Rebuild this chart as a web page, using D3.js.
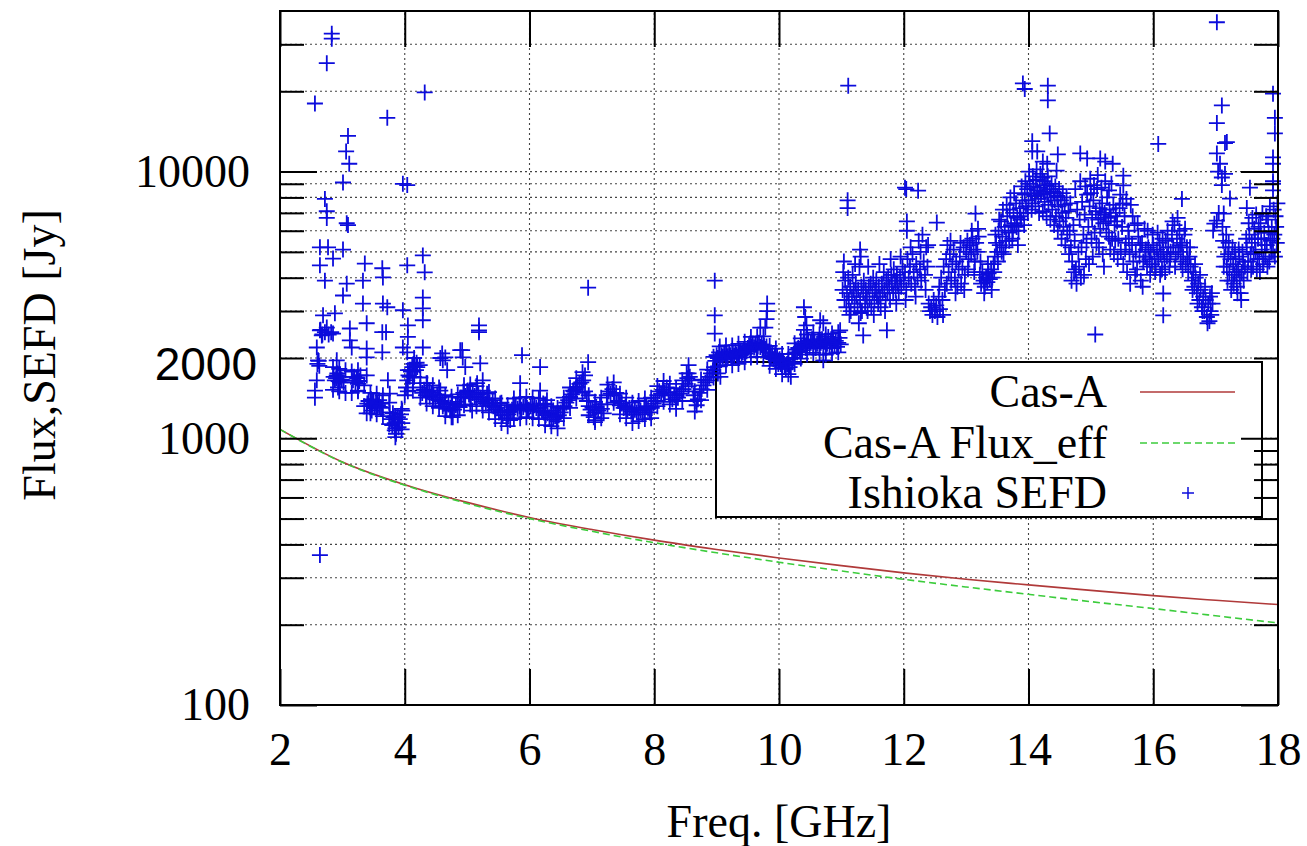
<!DOCTYPE html>
<html>
<head>
<meta charset="utf-8">
<script src="https://cdn.jsdelivr.net/npm/d3@7"></script>
<style>
  body { margin: 0; background: #fff; }
  svg { display: block; }
</style>
</head>
<body>
<svg id="chart"></svg>
<script>
// axis ticks
const xTicks = [2, 4, 6, 8, 10, 12, 14, 16, 18];
const yMajorTicks = [100, 1000, 10000];
const yMinorTicks = [200, 300, 400, 500, 600, 700, 800, 900, 2000, 3000, 4000, 5000, 6000, 7000, 8000, 9000, 20000, 30000];

// Cas-A flux curves
const casAFreq    = [2, 3, 4, 5, 6, 7, 8, 9, 10, 11, 12, 13, 14, 15, 16, 17, 18];
const casAFlux    = [1080, 815, 670, 575, 505, 455, 415, 383, 356, 333, 313, 296, 282, 269, 257, 247, 238];
const casAEffFlux = [1080, 813, 667, 570, 500, 448, 406, 372, 343, 318, 296, 277, 260, 244, 230, 216, 203];

// Ishioka SEFD [GHz, Jy]
const sefdLow = [
 [2.56,1510],[2.56,1420],[2.59,1650],[2.59,2190],[2.61,1960],[2.60,1900],[2.62,1950],[2.63,1870],
 [2.64,2540],[2.65,2550],[2.67,2430],[2.68,2450],[2.69,2890],[2.72,2500],[2.75,2600],[2.78,2450],[2.82,2500],[2.85,2470],
 [2.86,1700],[2.88,1650],[2.88,2940],[2.90,1680],[2.91,1720],[2.91,1960],[2.92,1750],[2.93,1550],[2.94,1640],[2.96,1620],
 [2.97,1700],[2.99,1660],[3.02,1620],[3.12,2580],[3.12,2330],[3.15,2190],[3.17,1650],[3.19,1700],[3.21,1620],[3.23,1690],
 [3.24,1680],[3.25,1600],[3.25,1510],[3.27,1640],[3.29,1720],[3.39,1720],[3.39,2700],[3.39,2170],[3.39,2010],[3.39,1240],
 [3.40,1350],[3.42,1380],[3.44,1320],[3.46,1400],[3.47,1270],[3.48,1340],[3.49,1390],[3.50,1370],[3.52,1310],[3.54,1360],
 [3.56,1350],[3.57,1330],[3.59,1390],[3.60,1310],[3.62,1300],[3.64,1350],[3.64,2100],[3.64,2500],[3.70,2500],[3.73,1650],
 [3.76,1470],[3.76,1250],[3.78,1180],[3.80,1120],[3.81,1240],[3.82,1200],[3.84,1140],[3.84,1070],[3.85,1090],[3.86,1040],
 [3.88,1150],[3.89,1200],[3.90,1100],[3.92,1180],[3.94,1230],[3.96,1140],[3.96,1270],[3.97,2190],[4.04,2100],[4.05,2650],
 [4.05,2400],[4.00,1450],[4.02,1550],[4.04,1650],[4.06,1720],[4.08,1700],[4.08,1800],[4.10,1780],[4.12,1850],[4.13,1610],
 [4.13,1510],[4.14,1900],[4.16,1860],[4.18,1800],[4.19,1920],[4.20,1850],[4.24,1880],[4.25,1550],[4.28,1480],[4.29,2190],
 [4.31,1520],[4.34,1450],[4.36,1610],[4.37,1500],[4.40,1430],[4.40,1510],[4.43,1480],[4.45,1420],[4.46,1450],[4.49,1400],
 [4.52,1460],[4.55,1420],[4.57,2000],[4.57,1510],[4.58,1380],[4.60,2080],[4.61,1960],[4.61,1320],[4.61,1350],[4.64,1360],
 [4.65,2010],[4.67,1290],[4.68,1800],[4.70,1340],[4.73,1300],[4.73,1270],[4.76,1350],[4.77,1200],[4.79,1280],[4.82,1330],
 [4.85,1370],[4.88,1310],[4.89,1420],[4.89,2140],[4.91,1420],[4.92,2140],[4.93,2010],[4.94,1480],[4.97,1440],[4.97,1850],
 [5.00,1500],[5.01,1510],[5.03,1460],[5.06,1420],[5.08,1270],[5.09,1480],[5.12,1440],[5.15,1400],[5.16,1610],[5.18,1460],
 [5.19,2650],[5.19,2540],[5.19,2500],[5.21,1420],[5.21,1910],[5.24,1370],[5.25,1650],[5.27,1400],[5.30,1350],[5.32,1470],
 [5.33,1390],[5.36,1360],[5.39,1330],[5.41,1390],[5.42,1320],[5.45,1280],[5.48,1300],[5.51,1250],[5.53,1350],[5.54,1270],
 [5.57,1220],[5.60,1250],[5.63,1190],[5.64,1270],[5.66,1230],[5.69,1260],[5.69,1170],[5.72,1280],[5.74,1310],[5.75,1300],
 [5.78,1330],[5.81,1290],[5.84,1320],[5.85,1420],[5.85,1610],[5.87,1280],[5.88,2050],[5.90,1310],[5.93,1340],[5.96,1300],
 [5.96,1270],[5.99,1280],[6.02,1320],[6.05,1290],[6.06,1270],[6.08,1330],[6.11,1300],[6.14,1270],[6.17,1300],[6.17,1850],
 [6.17,1510],[6.20,1260],[6.22,1350],[6.23,1250],[6.26,1220],[6.28,1390],[6.29,1240],[6.32,1200],[6.35,1230],[6.38,1180],
 [6.38,1270],[6.41,1210],[6.44,1160],[6.44,1200],[6.47,1220],[6.50,1250],[6.53,1290],[6.54,1310],[6.56,1320],[6.59,1360],
 [6.62,1390],[6.65,1430],[6.65,1420],[6.68,1460],[6.70,1510],[6.71,1500],[6.74,1530],[6.76,1550],[6.77,1560],[6.80,1600],
 [6.83,1620],[6.86,1650],[6.89,1500],[6.89,1720],[6.92,1380],[6.94,1930],[6.95,1320],[6.98,1280],[7.01,1300],[7.03,1200],
 [7.04,1250],[7.05,1170],[7.07,1310],[7.10,1270],[7.13,1340],[7.16,1290],[7.19,1240],[7.24,1450],[7.27,1500],[7.30,1470],
 [7.33,1530],[7.36,1450],[7.39,1480],[7.42,1380],[7.45,1330],[7.48,1350],[7.51,1300],[7.54,1320],[7.57,1280],[7.60,1300],
 [7.63,1260],[7.66,1230],[7.69,1280],[7.72,1250],[7.75,1300],[7.78,1270],[7.81,1230],[7.84,1280],[7.87,1320],[7.90,1290],
 [7.93,1250],[7.96,1300],[7.99,1350],[8.02,1380],[8.05,1450],[8.08,1500],[8.11,1470],[8.14,1520],[8.17,1480],[8.20,1550],
 [8.23,1490],[8.26,1450],[8.29,1400],[8.32,1450],[8.35,1380],[8.38,1420],[8.41,1470],[8.44,1500],[8.47,1530],[8.50,1600],
 [8.52,1750],[8.53,1680],[8.55,1750],[8.57,1700],[8.60,1650],[8.63,1450],[8.65,1380],[8.68,1330],[8.70,1400],[8.73,1480],
 [8.76,1530],[8.79,1580],[8.82,1620],[8.85,1650],[8.88,1700],[8.91,1750],[8.94,1800],[8.96,1850]
];
// upper / lower edge of the low-frequency ribbon
const sefdLowSpread = [
 [2.85,1850],[2.85,1520],[2.95,1820],[2.95,1500],[3.05,1800],[3.05,1480],[3.15,1780],[3.15,1480],[3.25,1800],[3.25,1500],
 [3.35,1580],[3.35,1320],[3.45,1480],[3.45,1240],[3.55,1470],[3.55,1230],[3.65,1450],[3.65,1210],[3.75,1360],[3.75,1130],
 [3.85,1210],[3.85,1010],[3.95,1290],[3.95,1080],[4.05,1800],[4.05,1500],[4.15,2000],[4.15,1700],[4.25,1690],[4.25,1420],
 [4.35,1610],[4.35,1350],[4.45,1580],[4.45,1320],[4.55,1550],[4.55,1300],[4.65,1450],[4.65,1210],[4.75,1430],[4.75,1200],
 [4.85,1460],[4.85,1220],[4.95,1580],[4.95,1330],[5.05,1590],[5.05,1340],[5.15,1570],[5.15,1320],[5.25,1510],[5.25,1270],
 [5.35,1490],[5.35,1250],[5.45,1410],[5.45,1180],[5.55,1360],[5.55,1140],[5.65,1330],[5.65,1110],[5.75,1410],[5.75,1180],
 [5.85,1420],[5.85,1190],[5.95,1430],[5.95,1200],[6.05,1420],[6.05,1190],[6.15,1410],[6.15,1180],[6.25,1340],[6.25,1120],
 [6.35,1320],[6.35,1110],[6.45,1300],[6.45,1090],[6.55,1420],[6.55,1190],[6.65,1550],[6.65,1300],[6.75,1680],[6.75,1410],
 [6.85,1770],[6.85,1480],[6.95,1450],[6.95,1220],[7.05,1370],[7.05,1150],[7.15,1420],[7.15,1190],[7.25,1590],[7.25,1340],
 [7.35,1620],[7.35,1360],[7.45,1470],[7.45,1230],[7.55,1420],[7.55,1190],[7.65,1360],[7.65,1140],[7.75,1380],[7.75,1160],
 [7.85,1410],[7.85,1180],[7.95,1420],[7.95,1190],[8.05,1570],[8.05,1320],[8.15,1640],[8.15,1370],[8.25,1600],[8.25,1340],
 [8.35,1540],[8.35,1290],[8.45,1650],[8.45,1380],[8.55,1880],[8.55,1570],[8.65,1500],[8.65,1260],[8.75,1660],[8.75,1390],
 [8.85,1810],[8.85,1520],[8.95,2020],[8.95,1690],[9.05,2210],[9.05,1860],[9.15,2230],[9.15,1880],[9.25,2230],[9.25,1880],
 [9.35,2260],[9.35,1900],[9.45,2300],[9.45,1930],[9.55,2400],[9.55,2010],[9.65,2410],[9.65,2020],[9.75,2410],[9.75,2020],
 [9.85,2220],[9.85,1870],[9.95,2170],[9.95,1820],[10.05,2070],[10.05,1740],[10.15,2070],[10.15,1740],[10.25,2270],[10.25,1900],
 [10.35,2370],[10.35,1990],[10.45,2450],[10.45,2060],[10.55,2490],[10.55,2090],[10.65,2450],[10.65,2060],[10.75,2450],[10.75,2060],
 [10.85,2470],[10.85,2080],[10.95,2500],[10.95,2100]
];
const sefdMid = [
 [8.98,1950],[9.00,2050],[9.02,2000],[9.02,1750],[9.04,2100],[9.06,1980],[9.06,1700],[9.08,2050],[9.10,2020],[9.12,2080],
 [9.14,1990],[9.16,2060],[9.18,2030],[9.20,2100],[9.22,2050],[9.24,2000],[9.26,2080],[9.28,2040],[9.30,2110],[9.32,2060],
 [9.34,2020],[9.36,2090],[9.38,2130],[9.40,2070],[9.42,2100],[9.44,2150],[9.46,2080],[9.48,2120],[9.50,2180],[9.52,2230],
 [9.54,2150],[9.56,2200],[9.58,2260],[9.60,2190],[9.62,2240],[9.64,2170],[9.66,2210],[9.68,2280],[9.70,2200],[9.70,2600],
 [9.72,2250],[9.74,2180],[9.76,2230],[9.78,2160],[9.78,2600],[9.80,2210],[9.80,2800],[9.81,3000],[9.81,3200],[9.83,2100],
 [9.85,2050],[9.87,2000],[9.89,2080],[9.91,1980],[9.93,2050],[9.95,1950],[9.97,2020],[9.99,1900],[10.01,1980],[10.03,1900],
 [10.05,1850],[10.07,1950],[10.09,1880],[10.11,1820],[10.13,1900],[10.15,1980],[10.17,1850],[10.19,1700],[10.21,1930],
 [10.23,2000],[10.25,2080],[10.27,2150],[10.29,2100],[10.31,2180],[10.33,2120],[10.35,2200],[10.37,2140],[10.39,2250],
 [10.40,3100],[10.40,2550],[10.41,2300],[10.42,2850],[10.43,2180],[10.44,2650],[10.45,2250],[10.47,2320],[10.49,2200],
 [10.51,2280],[10.53,2350],[10.55,2230],[10.57,2300],[10.59,2180],[10.61,2260],[10.63,2330],[10.65,2200],[10.66,2770],
 [10.67,2280],[10.69,2350],[10.71,2220],[10.71,2700],[10.71,1960],[10.73,2300],[10.75,2180],[10.77,2260],[10.79,2400],
 [10.81,2230],[10.83,2300],[10.85,2180],[10.87,2350],[10.89,2250],[10.91,2320],[10.93,2200],[10.95,2280],[10.97,2380],
 [10.98,2540],[10.99,2250]
];
const sefdHigh = [
 [11.02,3600],[11.03,4200],[11.05,3300],[11.06,3900],[11.08,3100],[11.09,3500],[11.11,4000],[11.12,3300],[11.14,3700],
 [11.15,3000],[11.17,3400],[11.18,4100],[11.20,3600],[11.21,3200],[11.23,3800],[11.24,3400],[11.26,3100],[11.27,3600],
 [11.28,2700],[11.29,4400],[11.30,3300],[11.30,5100],[11.31,4800],[11.32,3700],[11.33,3000],[11.35,3500],[11.35,2430],
 [11.36,3900],[11.38,3200],[11.39,3600],[11.41,3400],[11.42,3000],[11.44,3700],[11.45,3300],[11.47,3800],[11.48,3100],
 [11.50,3500],[11.51,4000],[11.53,3300],[11.54,3600],[11.56,3900],[11.57,3400],[11.59,3200],[11.60,3700],[11.62,3400],
 [11.63,3100],[11.65,3800],[11.66,3500],[11.68,4200],[11.69,3600],[11.71,3300],[11.72,3900],[11.73,2540],[11.74,3500],
 [11.75,4000],[11.77,3700],[11.78,3300],[11.80,4100],[11.81,3800],[11.83,3500],[11.84,4300],[11.86,3900],[11.87,3600],
 [11.89,4100],[11.90,3800],[11.92,3500],[11.94,4000],[11.96,3700],[11.98,4400],[12.00,3900],[12.02,4200],[12.04,3600],
 [12.05,6500],[12.05,6000],[12.06,4700],[12.08,4000],[12.10,4400],[12.12,3800],[12.14,4900],[12.16,4200],[12.18,3700],
 [12.20,4500],[12.22,4000],[12.24,5500],[12.26,4300],[12.28,3900],[12.30,5800],[12.32,4600],[12.34,4100],[12.36,5200],
 [12.38,4400],[12.40,3200],[12.42,3000],[12.44,3100],[12.46,2900],[12.48,3300],[12.50,3000],[12.52,3150],[12.53,6440],
 [12.54,2850],[12.56,3400],[12.58,3050],[12.60,4000],[12.62,3300],[12.64,4400],[12.66,3600],[12.68,4700],[12.70,5300],
 [12.72,4200],[12.74,4900],[12.76,3900],[12.78,4500],[12.80,5100],[12.82,4000],[12.84,4600],[12.86,3700],[12.88,4300],
 [12.90,4800],[12.92,3800],[12.94,4400],[12.96,5200],[12.98,4100],[13.00,5000],[13.02,5500],[13.04,4700],[13.06,5300],
 [13.08,4900],[13.10,5600],[13.12,5100],[13.14,4600],[13.15,6960],[13.16,5400],[13.18,5000],[13.20,5700],[13.22,4100],
 [13.24,3800],[13.26,4200],[13.28,3900],[13.30,3700],[13.32,4000],[13.34,3850],[13.36,4150],[13.38,3950],[13.40,4300],
 [13.42,4000],[13.44,4500],[13.46,4800],[13.48,5400],[13.50,5000],[13.52,6000],[13.54,5300],[13.56,6500],[13.58,5700],
 [13.60,4900],[13.62,6200],[13.64,5500],[13.66,6800],[13.68,5900],[13.70,7200],[13.72,6300],[13.74,5600],[13.76,7000],
 [13.78,6400],[13.80,7600],[13.82,6700],[13.84,6000],[13.86,7300],[13.88,6600],[13.90,7800],[13.92,7000],[13.94,8200],
 [13.96,7400],[13.98,8600],[14.00,7800],[14.02,9000],[14.04,8300],[14.06,7600],[14.08,8800],[14.10,8100],[14.12,9300],
 [14.14,8500],[14.16,7900],[14.18,8700],[14.20,8200],[14.22,9500],[14.24,8400],[14.26,7700],[14.28,8900],[14.30,8300],
 [14.32,7500],[14.34,8600],[14.36,8000],[14.38,7200],[14.40,8400],[14.42,7800],[14.44,6800],[14.46,8100],[14.48,7400],
 [14.50,6500],[14.52,7800],[14.54,7000],[14.56,6200],[14.58,7500],[14.60,6700],[14.62,5800],[14.64,7100],[14.66,6000],
 [14.68,5200],[14.70,4600],[14.72,6300],[14.74,5500],[14.76,4300],[14.78,7200],[14.80,5000],[14.82,6600],[14.84,4000],
 [14.86,7700],[14.88,5800],[14.90,6900],[14.92,4700],[14.94,8200],[14.96,6200],[14.98,7400],[15.00,8300],[15.02,6700],
 [15.03,4800],[15.04,7800],[15.06,5900],[15.07,2450],[15.08,7100],[15.10,8600],[15.12,6600],[15.13,5200],[15.14,7300],
 [15.16,6900],[15.18,7600],[15.20,6400],[15.21,4400],[15.22,7000],[15.24,6700],[15.26,8000],[15.28,6500],[15.29,5700],
 [15.30,7200],[15.32,6800],[15.34,5600],[15.36,7500],[15.37,4900],[15.38,6300],[15.40,7000],[15.42,6500],[15.44,5600],
 [15.46,7300],[15.48,5000],[15.50,6200],[15.52,4500],[15.54,6800],[15.56,5400],[15.58,4200],[15.60,6000],[15.62,4900],
 [15.64,7500],[15.66,5300],[15.68,4600],[15.70,6300],[15.72,5000],[15.74,4300],[15.76,5700],[15.78,4800],[15.80,3900],
 [15.82,5400],[15.84,4600],[15.86,6100],[15.88,5100],[15.90,4400],[15.92,5200],[15.94,4700],[15.96,5000],[15.98,4500],
 [16.00,5300],[16.02,4800],[16.04,4400],[16.06,5100],[16.08,4700],[16.10,5400],[16.12,4900],[16.14,4300],[16.16,5000],
 [16.16,3490],[16.16,2890],[16.18,4600],[16.20,5500],[16.22,4800],[16.24,5200],[16.26,4400],[16.28,5000],[16.30,5800],
 [16.32,5200],[16.34,6300],[16.36,4900],[16.38,5600],[16.40,5000],[16.42,6000],[16.44,4600],[16.46,5400],[16.46,7900],
 [16.48,4800],[16.50,5800],[16.52,4500],[16.54,5200],[16.56,4200],[16.58,4800],[16.60,4400],[16.62,3900],[16.64,4200],
 [16.66,3700],[16.68,4000],[16.70,3500],[16.72,3800],[16.74,3300],[16.76,3600],[16.78,3100],[16.80,3400],[16.82,3000],
 [16.84,3300],[16.86,2850],[16.88,3200],[16.90,2750],[16.92,3000],[16.94,3500],[16.96,6010],[16.98,6380],[17.02,6550],
 [17.05,7000],[17.07,10700],[17.10,9500],[17.10,8900],[17.12,5500],[17.13,6960],[17.14,4800],[17.15,9800],[17.16,5200],
 [17.18,4400],[17.20,4900],[17.22,4200],[17.23,7920],[17.24,4700],[17.26,3900],[17.28,4500],[17.30,4100],[17.32,4700],
 [17.34,3700],[17.36,4300],[17.38,4800],[17.40,3500],[17.42,4200],[17.44,4600],[17.50,5200],[17.50,7300],[17.52,4600],
 [17.54,5800],[17.55,8700],[17.56,4900],[17.58,5400],[17.60,4400],[17.62,6100],[17.64,5000],[17.66,4300],[17.68,5600],
 [17.70,4700],[17.72,6400],[17.74,5100],[17.76,4500],[17.78,5900],[17.80,4800],[17.82,5300],[17.84,6600],[17.86,4600],
 [17.88,5500],[17.90,6200],[17.92,5000],[17.92,9000],[17.92,8500],[17.94,5800],[17.96,6800],[17.98,5400]
];
// extra scatter of the 11-18 GHz cloud
const sefdHighSpread = [
 [11.04,4600],[11.13,2900],[11.22,4500],[11.31,2950],[11.43,4400],[11.52,2900],[11.61,4500],[11.70,3000],[11.79,4700],
 [11.88,3200],[11.95,4800],[12.03,3300],[12.11,5200],[12.19,3400],[12.27,5000],[12.35,3600],[12.39,5300],[12.57,3700],
 [12.63,2900],[12.69,3800],[12.75,5500],[12.83,3500],[12.91,5400],[12.97,3600],[13.03,4300],[13.09,6000],[13.13,4200],
 [13.19,6100],[13.23,4600],[13.29,3500],[13.35,4500],[13.41,3600],
 [13.45,4200],[13.47,5800],[13.51,4600],[13.53,6600],[13.57,5000],[13.59,7200],[13.63,5200],[13.65,7500],[13.69,5500],
 [13.71,8000],[13.75,6000],[13.77,8300],[13.81,6200],[13.83,5300],[13.87,6800],[13.89,8800],[13.93,6300],[13.95,9200],
 [13.99,7000],[14.01,10000],[14.05,7200],[14.07,9600],[14.11,7400],[14.13,10200],[14.17,7000],[14.19,9800],[14.23,7100],
 [14.25,9200],[14.29,6800],[14.31,9600],[14.35,6600],[14.37,9000],[14.41,6300],[14.43,8800],[14.47,6000],[14.49,8600],
 [14.53,5600],[14.55,8300],[14.59,5300],[14.61,8000],[14.65,4900],[14.67,7600],
 [14.69,3900],[14.73,4200],[14.77,3800],[14.81,4400],[14.85,5200],[14.89,4100],[14.93,5400],[14.97,4500],
 [14.75,8600],[14.83,9200],[14.91,8800],[14.99,9400],[15.05,8900],[15.11,9700],[15.17,8700],[15.23,9200],[15.29,8500],
 [15.33,9000],[15.01,5600],[15.09,5400],[15.15,6100],[15.19,4900],[15.25,5900],[15.31,5100],[15.39,5500],[15.43,4700],
 [15.47,8200],[15.51,7600],[15.55,5100],[15.57,7900],[15.61,5600],[15.63,3800],[15.67,6800],[15.71,4100],[15.75,6400],
 [15.79,5300],[15.83,3700],[15.87,4800],[15.91,6000],[15.95,4100],[15.99,5800],[16.03,4200],[16.07,5900],[16.11,4100],
 [16.15,5600],[16.19,4200],[16.23,6000],[16.27,4700],[16.31,6500],[16.35,4400],[16.39,6700],[16.43,5300],[16.47,4300],
 [16.51,6100],[16.55,4700],[16.59,5200],[16.63,3600],[16.67,4500],[16.71,3200],[16.75,4100],[16.79,3000],[16.83,3700],
 [16.87,2700],[16.91,3400],[16.93,2900],[16.95,3200],
 [17.11,6200],[17.13,4400],[17.17,5800],[17.19,3900],[17.21,5400],[17.25,3600],[17.27,5200],[17.29,3800],[17.31,5000],
 [17.33,4200],[17.35,3500],[17.37,5100],[17.39,4000],[17.41,3300],[17.43,5000],[17.45,3900],[17.47,4400],[17.49,5600],
 [17.51,4200],[17.53,6400],[17.57,4300],[17.59,6700],[17.61,4900],[17.63,5600],[17.65,6900],[17.67,4700],[17.69,6200],
 [17.71,4200],[17.73,5600],[17.75,7000],[17.77,4700],[17.79,5300],[17.81,6800],[17.83,4400],[17.85,5900],[17.87,7400],
 [17.89,5000],[17.91,5600],[17.93,7200],[17.95,4800],[17.97,6200],[17.99,7600]
];
const sefdOutliers = [
 [2.56,18000],[2.83,32900],[2.83,31500],[2.75,25500],[3.72,15900],[4.32,19800],[3.09,13600],[3.06,11900],[3.11,10700],
 [3.01,9100],[2.72,7900],[2.75,7100],[2.75,6700],[3.07,6400],[3.09,6300],[3.97,9000],[4.04,8900],[2.64,5200],[2.77,5200],
 [3.01,5100],[2.85,4720],[2.64,4450],[2.72,3900],[3.36,4520],[3.33,3900],[3.64,4340],[3.65,4010],[3.07,3800],[3.01,3430],
 [4.04,4450],[4.29,4850],[4.32,4190],[4.29,3370],[4.29,3070],[4.29,2770],[3.33,3200],[3.65,3200],[3.72,3100],[3.97,3020],
 [2.64,365],[6.94,3670],[8.97,3900],[8.97,2890],[8.97,2470],[11.10,7800],[11.10,7300],[11.11,21000],[12.02,8700],
 [12.04,8600],[12.23,8480],[13.91,21400],[13.94,20400],[14.31,21000],[14.31,18500],[14.34,13900],[14.06,13000],
 [14.06,11900],[14.14,11900],[14.23,10900],[14.30,10700],[14.45,10080],[14.47,11600],[14.83,11700],[14.94,11200],
 [15.15,11200],[15.23,10900],[15.35,10700],[15.52,9650],[15.52,8870],[16.08,12700],[17.02,36300],[17.10,17700],
 [17.02,15200],[17.15,12800],[17.18,12900],[17.02,11700],[17.04,10000],[17.92,19600],[17.95,15900],[17.95,13900],
 [17.92,11300],[17.92,10700],[17.92,9200]
];

const legendItems = ["Cas-A", "Cas-A Flux_eff", "Ishioka SEFD"];

const width = 1307, height = 846;
const margin = {top: 11, right: 29, bottom: 141, left: 280};
const serif = "'Liberation Serif', 'Times New Roman', serif";
const sans = "'Liberation Sans', Arial, sans-serif";
const blue = "#0c0cdc", red = "#b03a3a", green = "#3ccc3c";

const svg = d3.select("#chart").attr("width", width).attr("height", height);
svg.append("rect").attr("width", width).attr("height", height).attr("fill", "#fff");

const x = d3.scaleLinear().domain([2, 18]).range([margin.left, width - margin.right]);
const y = d3.scaleLog().domain([100, 40000]).range([height - margin.bottom, margin.top]);

// grid
const grid = svg.append("g").attr("stroke", "#444").attr("stroke-width", 1.1).attr("stroke-dasharray", "2,3");
grid.selectAll(".gx").data(xTicks.slice(1, -1)).join("line")
    .attr("x1", d => x(d)).attr("x2", d => x(d))
    .attr("y1", y.range()[0]).attr("y2", y.range()[1]);
grid.selectAll(".gy").data(yMinorTicks.concat([1000, 10000])).join("line")
    .attr("y1", d => y(d)).attr("y2", d => y(d))
    .attr("x1", x.range()[0]).attr("x2", x.range()[1]);

// legend box (opaque)
const lg = {x: 716, y: 362, w: 546, h: 155};
svg.append("rect").attr("x", lg.x).attr("y", lg.y).attr("width", lg.w).attr("height", lg.h)
    .attr("fill", "#fff").attr("stroke", "#000").attr("stroke-width", 2);

// curves
const line = d3.line().x(d => x(d[0])).y(d => y(d[1])).curve(d3.curveMonotoneX);
svg.append("path").datum(casAFreq.map((f, i) => [f, casAFlux[i]]))
    .attr("d", line).attr("fill", "none").attr("stroke", red).attr("stroke-width", 1.6);
svg.append("path").datum(casAFreq.map((f, i) => [f, casAEffFlux[i]]))
    .attr("d", line).attr("fill", "none").attr("stroke", green).attr("stroke-width", 1.6)
    .attr("stroke-dasharray", "7,4");

// SEFD points
const cross = "M-8,0H8M0,-8V8";
const sefd = sefdLow.concat(sefdLowSpread, sefdMid, sefdHigh, sefdHighSpread, sefdOutliers);
svg.append("g").selectAll("path").data(sefd).join("path")
    .attr("transform", d => `translate(${x(d[0])},${y(d[1])})`)
    .attr("d", cross).attr("stroke", blue).attr("stroke-width", 1.8).attr("fill", "none");

// axes (ticks inward, mirrored)
const axisStyle = g => {
  g.select(".domain").remove();
  g.selectAll(".tick line").attr("stroke", "#000").attr("stroke-width", 2);
  g.selectAll(".tick text").attr("font-family", serif).attr("font-size", 46).attr("fill", "#000");
};
const H = height - margin.bottom, W = width - margin.right;
svg.append("g").attr("transform", `translate(0,${H})`)
    .call(d3.axisBottom(x).tickValues(xTicks).tickSize(-36).tickPadding(27).tickFormat(d3.format("d"))).call(axisStyle);
svg.append("g").attr("transform", `translate(0,${margin.top})`)
    .call(d3.axisTop(x).tickValues(xTicks).tickSize(-36).tickFormat("")).call(axisStyle);
svg.append("g").attr("transform", `translate(${margin.left},0)`)
    .call(d3.axisLeft(y).tickValues(yMajorTicks).tickSize(-37).tickPadding(30).tickFormat(d3.format("d"))).call(axisStyle);
svg.append("g").attr("transform", `translate(${margin.left},0)`)
    .call(d3.axisLeft(y).tickValues(yMinorTicks).tickSize(-24).tickFormat("")).call(axisStyle);
svg.append("g").attr("transform", `translate(${W},0)`)
    .call(d3.axisRight(y).tickValues(yMajorTicks).tickSize(-37).tickFormat("")).call(axisStyle);
svg.append("g").attr("transform", `translate(${W},0)`)
    .call(d3.axisRight(y).tickValues(yMinorTicks).tickSize(-24).tickFormat("")).call(axisStyle);
// extra 2000 label
const lab2000 = svg.append("g").attr("transform", `translate(${margin.left},0)`)
    .call(d3.axisLeft(y).tickValues([2000]).tickSize(0).tickPadding(23).tickFormat(d3.format("d")));
lab2000.select(".domain").remove();
lab2000.selectAll("text").attr("font-family", sans).attr("font-size", 46).attr("fill", "#000").attr("dy", "0.47em");

// frame
svg.append("rect").attr("x", margin.left).attr("y", margin.top)
    .attr("width", W - margin.left).attr("height", H - margin.top)
    .attr("fill", "none").attr("stroke", "#000").attr("stroke-width", 2);

// titles
svg.append("text").attr("x", (margin.left + W) / 2).attr("y", 837).attr("text-anchor", "middle")
    .attr("font-family", serif).attr("font-size", 46).text("Freq. [GHz]");
svg.append("text").attr("transform", "translate(55,355) rotate(-90)").attr("text-anchor", "middle")
    .attr("font-family", serif).attr("font-size", 46).text("Flux,SEFD [Jy]");

// legend entries
const rowY = [392, 443, 493];
svg.append("g").selectAll("text").data(legendItems).join("text")
    .attr("x", 1107).attr("y", (d, i) => rowY[i]).attr("dy", "0.33em").attr("text-anchor", "end")
    .attr("font-family", serif).attr("font-size", 46).text(d => d);
svg.append("line").attr("x1", 1140).attr("x2", 1235).attr("y1", rowY[0]).attr("y2", rowY[0])
    .attr("stroke", red).attr("stroke-width", 1.6);
svg.append("line").attr("x1", 1140).attr("x2", 1235).attr("y1", rowY[1]).attr("y2", rowY[1])
    .attr("stroke", green).attr("stroke-width", 1.6).attr("stroke-dasharray", "7,4");
svg.append("path").attr("transform", `translate(1188,${rowY[2]})`).attr("d", "M-6,0H6M0,-6V6")
    .attr("stroke", blue).attr("stroke-width", 1.5);
</script>
</body>
</html>
